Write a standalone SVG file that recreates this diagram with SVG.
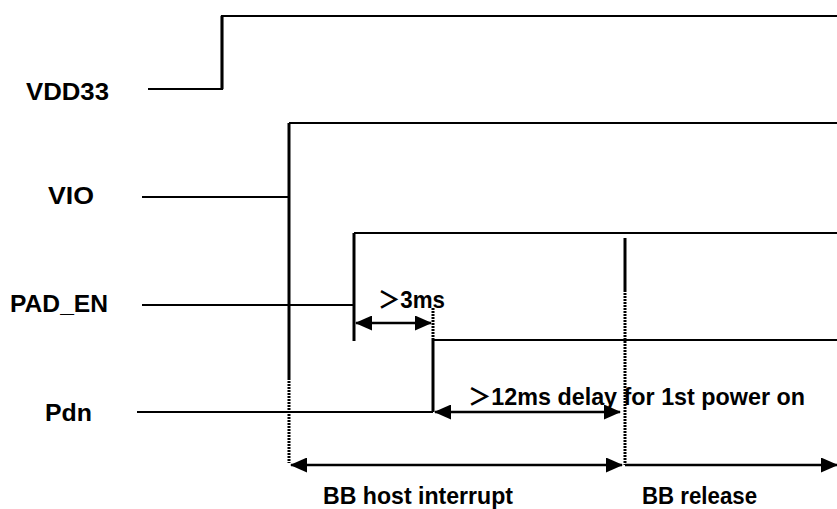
<svg xmlns="http://www.w3.org/2000/svg" width="837" height="509" viewBox="0 0 837 509">
<style>
.sig{fill:none;stroke:#000;stroke-width:2.2}
.edge{fill:none;stroke:#000;stroke-width:3}
.dot{fill:none;stroke:#000;stroke-width:3;stroke-dasharray:2,1}
.arr{fill:none;stroke:#000;stroke-width:2.5}
text{font-family:"Liberation Sans",Arial,"Noto Sans CJK JP",sans-serif;font-weight:bold;font-size:24px;fill:#000}
</style>
<defs>
<marker id="ah" markerUnits="userSpaceOnUse" markerWidth="17" markerHeight="15" refX="16" refY="7.5" orient="auto-start-reverse">
<path d="M0,0 L17,7.5 L0,15 Z" fill="#000"/>
</marker>
</defs>
<rect width="837" height="509" fill="#fff"/>
<g id="vdd33">
<text x="26" y="100" textLength="83" lengthAdjust="spacingAndGlyphs">VDD33</text>
<polyline class="sig" points="148,89 222,89 222,16 837,16"/>
<line class="edge" x1="222" y1="89" x2="222" y2="16"/>
</g>
<g id="vio">
<text x="48" y="204" textLength="46" lengthAdjust="spacingAndGlyphs">VIO</text>
<line class="sig" x1="142" y1="197" x2="289" y2="197"/>
<line class="edge" x1="289" y1="123" x2="289" y2="378"/>
<line class="dot" x1="289" y1="378" x2="289" y2="463"/>
<line class="sig" x1="289" y1="123" x2="837" y2="123"/>
</g>
<g id="pad_en">
<text x="10" y="312" textLength="98" lengthAdjust="spacingAndGlyphs">PAD_EN</text>
<line class="sig" x1="142" y1="305" x2="354" y2="305"/>
<line class="edge" x1="354" y1="233" x2="354" y2="341"/>
<line class="sig" x1="354" y1="233" x2="837" y2="233"/>
</g>
<g id="pdn">
<text x="45" y="421" textLength="47" lengthAdjust="spacingAndGlyphs">Pdn</text>
<line class="sig" x1="137" y1="412" x2="433" y2="412"/>
<line class="edge" x1="433" y1="340" x2="433" y2="412"/>
<line class="dot" x1="433" y1="308" x2="433" y2="340"/>
<line class="sig" x1="433" y1="340" x2="837" y2="340"/>
</g>
<g id="bb_release_marker">
<line class="edge" x1="625" y1="238" x2="625" y2="290"/>
<line class="dot" x1="625" y1="290" x2="625" y2="465"/>
</g>
<g id="connectors">
<line class="arr" x1="356" y1="323" x2="431" y2="323" marker-start="url(#ah)" marker-end="url(#ah)"/>
<line class="arr" x1="435" y1="412" x2="620" y2="412" marker-start="url(#ah)" marker-end="url(#ah)"/>
<line class="arr" x1="291" y1="465" x2="622" y2="465" marker-start="url(#ah)" marker-end="url(#ah)"/>
<line class="arr" x1="625" y1="465" x2="837" y2="465" marker-end="url(#ah)"/>
</g>
<g id="labels">
<text x="378" y="308" textLength="67" lengthAdjust="spacingAndGlyphs">＞3ms</text>
<text x="468" y="405" textLength="337" lengthAdjust="spacingAndGlyphs">＞12ms delay for 1st power on</text>
<text x="323" y="504" textLength="190" lengthAdjust="spacingAndGlyphs">BB host interrupt</text>
<text x="642" y="504" textLength="115" lengthAdjust="spacingAndGlyphs">BB release</text>
</g>
</svg>
